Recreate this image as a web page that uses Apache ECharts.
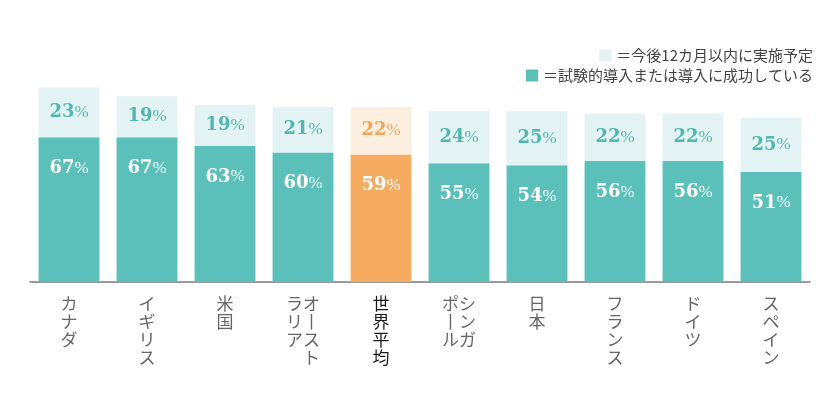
<!DOCTYPE html>
<html>
<head>
<meta charset="utf-8">
<script src="https://cdn.jsdelivr.net/npm/echarts@6/dist/echarts.min.js"></script>
<style>
html,body{margin:0;padding:0;background:#fff;}
#chart{width:840px;height:420px;}
</style>
</head>
<body>
<div id="chart"></div>
<script>
// Categories (vertical label columns, right column first)
const categories = ['カナダ','イギリス','米国','オーストラリア','世界平均','シンガポール','日本','フランス','ドイツ','スペイン'];
const labelColumns = [['カナダ'],['イギリス'],['米国'],['オースト','ラリア'],['世界平均'],['シンガ','ポール'],['日本'],['フランス'],['ドイツ'],['スペイン']];
const adopted = [67, 67, 63, 60, 59, 55, 54, 56, 56, 51];
const planned = [23, 19, 19, 21, 22, 24, 25, 22, 22, 25];
const legendPlanned = '＝今後12カ月以内に実施予定';
const legendAdopted = '＝試験的導入または導入に成功している';
const highlightCategory = '世界平均';

const TEAL = '#5BBFBA', TEAL_LIGHT = '#E3F2F2', ORANGE = '#F5AC61', ORANGE_LIGHT = '#FDEFE0';
const TEAL_TEXT = '#52B7B1', ORANGE_TEXT = '#F2A558';

function verticalText(cols) {
  const c = cols.map(s => Array.from(s.replace(/ー/g, '丨')));
  const rows = Math.max(...c.map(a => a.length));
  const lines = [];
  for (let i = 0; i < rows; i++) {
    let line = '';
    for (let k = c.length - 1; k >= 0; k--) line += (c[k][i] || '　');
    lines.push(line);
  }
  return lines.join('\n');
}

const numRich = (color) => ({
  n: {fontFamily: 'DejaVu Serif', fontWeight: 'bold', fontSize: 18, color: color},
  p: {fontFamily: 'Liberation Serif', fontWeight: 'normal', fontSize: 17, color: color}
});

const adoptedData = adopted.map((v, i) => {
  const hl = categories[i] === highlightCategory;
  return {value: v, itemStyle: {color: hl ? ORANGE : TEAL}};
});
const plannedData = planned.map((v, i) => {
  const hl = categories[i] === highlightCategory;
  return {
    value: v,
    itemStyle: {color: hl ? ORANGE_LIGHT : TEAL_LIGHT},
    label: {rich: numRich(hl ? ORANGE_TEXT : TEAL_TEXT)}
  };
});

const chart = echarts.init(document.getElementById('chart'), null, {renderer: 'canvas'});
chart.setOption({
  animation: false,
  backgroundColor: '#fff',
  legend: [
    {
      data: [{name: legendPlanned, itemStyle: {color: TEAL_LIGHT}}],
      right: 22, top: 43, itemWidth: 12, itemHeight: 12, itemGap: 0,
      icon: 'rect', selectedMode: false,
      textStyle: {fontFamily: 'Noto Sans CJK JP', fontSize: 15, color: '#444', padding: [0,0,0,0]}
    },
    {
      data: [{name: legendAdopted, itemStyle: {color: TEAL}}],
      right: 22, top: 63, itemWidth: 12, itemHeight: 12, itemGap: 0,
      icon: 'rect', selectedMode: false,
      textStyle: {fontFamily: 'Noto Sans CJK JP', fontSize: 15, color: '#444', padding: [0,0,0,0]}
    }
  ],
  grid: {left: 30, right: 30, top: 66, bottom: 138, containLabel: false},
  xAxis: {
    type: 'category',
    data: categories,
    axisLine: {lineStyle: {color: '#7a7a7a', width: 1.5}},
    axisTick: {show: false},
    axisLabel: {
      interval: 0,
      margin: 13,
      verticalAlign: 'top',
      align: 'center',
      fontFamily: 'Noto Sans CJK JP',
      fontSize: 17,
      lineHeight: 18,
      color: '#666',
      formatter: (val, idx) => {
        const t = verticalText(labelColumns[idx]);
        return val === highlightCategory ? '{b|' + t + '}' : t;
      },
      rich: {b: {fontFamily: 'Noto Sans CJK JP', fontSize: 17, lineHeight: 18, color: '#1a1a1a', fontWeight: 'normal'}}
    }
  },
  yAxis: {type: 'value', min: 0, max: 100, show: false, splitLine: {show: false}},
  series: [
    {
      name: legendAdopted,
      type: 'bar',
      stack: 'total',
      barCategoryGap: '22%',
      data: adoptedData,
      itemStyle: {color: TEAL},
      label: {
        show: true, position: 'insideTop', distance: 22,
        formatter: p => '{n|' + p.value + '}{p|%}',
        rich: numRich('#ffffff')
      }
    },
    {
      name: legendPlanned,
      type: 'bar',
      stack: 'total',
      barCategoryGap: '22%',
      data: plannedData,
      itemStyle: {color: TEAL_LIGHT},
      label: {
        show: true, position: 'inside',
        formatter: p => '{n|' + p.value + '}{p|%}',
        rich: numRich(TEAL_TEXT)
      }
    }
  ]
});
</script>
</body>
</html>
